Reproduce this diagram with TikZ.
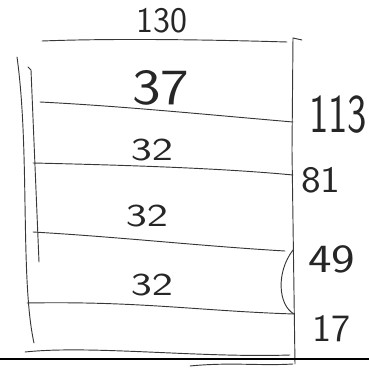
\documentclass[tikz,border=0pt]{standalone}
\usepackage{tikz}
\usepackage{graphicx}
\usepackage{xcolor}
\definecolor{pencil}{RGB}{55,55,55}
\newcommand{\hand}[3]{\fontsize{#1}{#1}\selectfont\scalebox{#2}[1]{#3}}

\begin{document}
\begin{tikzpicture}[x=0.75pt,y=-0.75pt,
    pen/.style={draw=pencil, line width=0.7pt, line cap=round},
    num/.style={text=black!85, font=\sffamily, inner sep=0pt}]
\useasboundingbox (0,0) rectangle (369,368);

% corner points of the box
\coordinate (tl) at (42,41);
\coordinate (tr) at (287,42);
\coordinate (rt) at (293,38);
\coordinate (rb) at (295,364);
\coordinate (lt) at (17,57);
\coordinate (lb) at (34,343);

% width on top
\node[num] (w) at (162,21) {\hand{27}{1}{130}};

% outline
\draw[pen] (tl) .. controls (120,38) and (220,40) .. (tr);
\draw[pen] (rt) -- (302,40);
\draw[pen] (rt) -- (292,150) -- (rb);
\draw[pen] (lt) .. controls (30,150) and (20,280) .. (lb);

% inner height line
\coordinate (it) at (31,70);
\coordinate (ib) at (39,262);
\draw[pen] (28,67) -- (it) -- (ib);

% partition lines
\coordinate (a1) at (40,102);  \coordinate (b1) at (293,122);
\coordinate (a2) at (33,163);  \coordinate (b2) at (293,175);
\coordinate (a3) at (33,232);  \coordinate (b3) at (285,251);
\coordinate (a4) at (27,303);  \coordinate (b4) at (294,314);
\draw[pen] (a1) .. controls (120,106) and (200,114) .. (b1);
\draw[pen] (a2) .. controls (120,165) and (220,168) .. (b2);
\draw[pen] (a3) .. controls (120,237) and (200,246) .. (b3);
\draw[pen] (a4) .. controls (140,301) and (200,311) .. (b4);

% bracket on the right
\coordinate (k1) at (293,250);
\draw[pen] (k1) .. controls (276,272) and (278,305) .. (b4);

% bottom strokes
\coordinate (c1) at (25,352);
\coordinate (c2) at (290,355);
\draw[pen] (c1) .. controls (90,345) and (200,358) .. (c2);
\coordinate (g1) at (0,359);
\coordinate (g2) at (369,359);
\draw[line width=1.6pt, black] (g1) -- (g2);
\draw[pen] (190,366) .. controls (230,362) and (260,366) .. (293,364);

% section heights
\node[num] (h1) at (161,88) {\hand{38}{1.2}{37}};
\node[num] (h2) at (152,150) {\hand{24}{1.4}{32}};
\node[num] (h3) at (147,216) {\hand{24}{1.4}{32}};
\node[num] (h4) at (152,285) {\hand{24}{1.4}{32}};

% levels on the right
\node[num] (l1) at (338,115) {\hand{41}{0.75}{113}};
\node[num] (l2) at (321,180) {\hand{28}{1.12}{81}};
\node[num] (l3) at (332,259) {\hand{30}{1.25}{49}};
\node[num] (l4) at (332,329) {\hand{29}{1.05}{17}};

\end{tikzpicture}
\end{document}
